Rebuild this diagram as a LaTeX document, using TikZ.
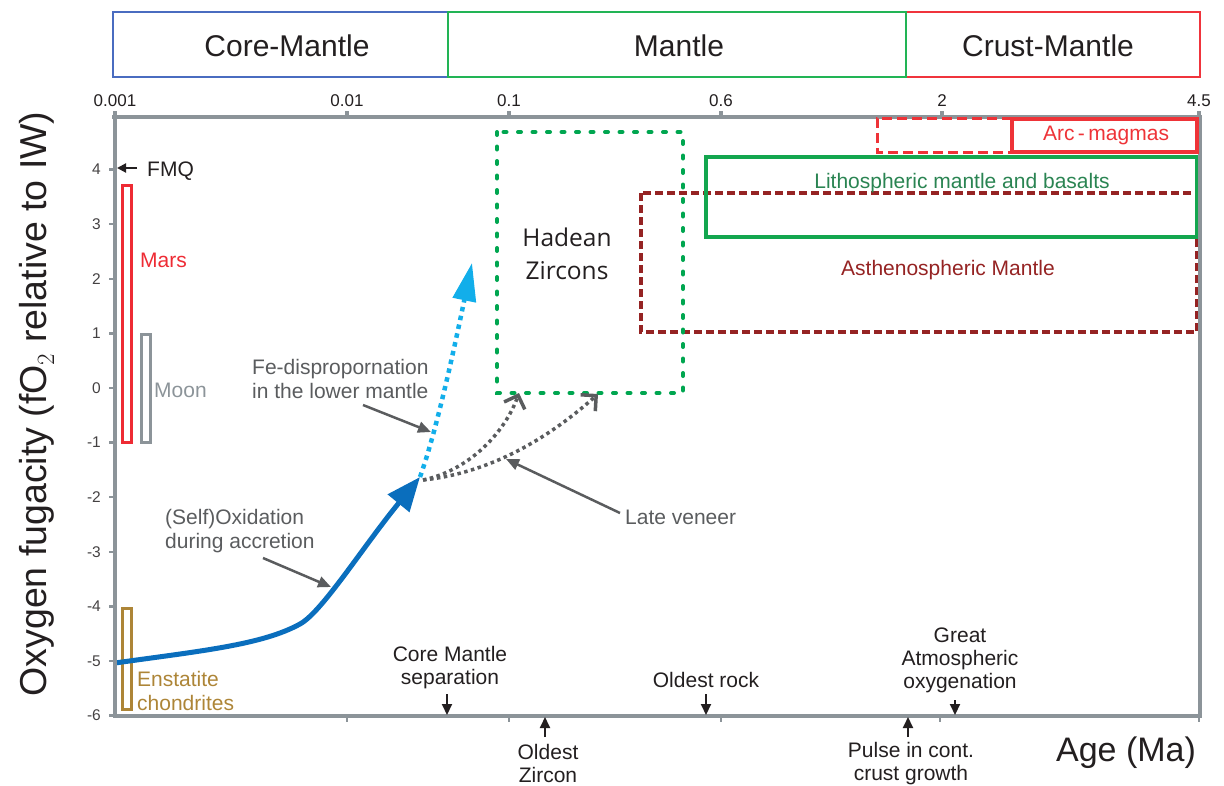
\documentclass[tikz,border=0pt]{standalone}
\usepackage{fontspec}
\setmainfont{Liberation Sans}
\newfontfamily\hadfont{Open Sans}
\usetikzlibrary{arrows.meta}
\definecolor{axisgray}{HTML}{8C9499}
\definecolor{marsred}{HTML}{EE2B34}
\definecolor{enbrown}{HTML}{AD8537}
\definecolor{dblue}{HTML}{0A6EBD}
\definecolor{lblue}{HTML}{12AEEA}
\definecolor{zgreen}{HTML}{00A650}
\definecolor{lgreen}{HTML}{13A64F}
\definecolor{ltext}{HTML}{2A8452}
\definecolor{dred}{HTML}{952323}
\definecolor{arcred}{HTML}{EE3338}
\definecolor{anngray}{HTML}{5A5C5E}
\definecolor{topblue}{HTML}{4A6CC0}
\definecolor{topgreen}{HTML}{22B455}
\definecolor{topred}{HTML}{F0343C}
\definecolor{txt}{HTML}{231F20}
\begin{document}
\begin{tikzpicture}[x=1pt,y=-1pt,
  axis/.style={axisgray,line width=3.5pt},
  toplbl/.style={font=\fontsize{30}{34}\selectfont,text=txt,inner sep=0pt,anchor=base},
  xtick/.style={font=\fontsize{17}{20}\selectfont,text=txt,inner sep=0pt,anchor=base},
  ytick/.style={font=\fontsize{15.5}{18}\selectfont,text=txt!85,inner sep=0pt,anchor=east},
  ann/.style={font=\fontsize{21}{24}\selectfont,text=anngray,inner sep=0pt,align=left,anchor=west},
  blbl/.style={font=\fontsize{21}{23}\selectfont,text=txt,inner sep=0pt,align=center},
  boxlbl/.style={font=\fontsize{21}{24}\selectfont,inner sep=0pt},
  annarrow/.style={anngray,line width=2.5pt,-{Triangle[length=13pt,width=11pt]}},
  evarrow/.style={txt,line width=2pt,-{Triangle[length=11pt,width=10pt]}},
  gdot/.style={anngray,line width=3.5pt,dash pattern=on 3.5pt off 3.5pt,-{Straight Barb[length=11pt,width=22pt,line width=3.5pt]}}
]
\useasboundingbox (0,0) rectangle (1224,785);

% top bar
\draw[topblue,line width=1.2pt] (113,12) rectangle (448,77);
\draw[topred,line width=1.2pt] (906,12) rectangle (1200,77);
\draw[topgreen,line width=1.2pt] (448,12) rectangle (906,77);
\node[toplbl] (tcm) at (287,56) {Core-Mantle};
\node[toplbl] (tm) at (679,56) {Mantle};
\node[toplbl] (tcr) at (1048,56) {Crust-Mantle};

% top tick labels
\node[xtick] (x1) at (115,106) {0.001};
\node[xtick] (x2) at (347,106) {0.01};
\node[xtick] (x3) at (509,106) {0.1};
\node[xtick] (x4) at (721,106) {0.6};
\node[xtick] (x5) at (942,106) {2};
\node[xtick] (x6) at (1199,106) {4.5};

% boxes
\draw[dred,line width=3.5pt,dash pattern=on 8pt off 4pt] (641,193) rectangle (1197,332);
\draw[lgreen,line width=4.5pt] (706,157) rectangle (1197,237);
\draw[zgreen,line width=4pt,line cap=round,dash pattern=on 3pt off 11.5pt] (497,132) rectangle (683,393);

\node[boxlbl,text=ltext] (lith) at (962,183) {Lithospheric mantle and basalts};
\node[boxlbl,text=dred] (asth) at (948,270) {Asthenospheric Mantle};
\node[font=\hadfont\fontsize{24.5}{33}\selectfont,text=txt,align=center,inner sep=0pt] (had) at (567,254) {Hadean\\Zircons};

% Mars, Moon, Enstatite
\draw[marsred,line width=3pt] (122.5,185) rectangle (131.5,442);
\draw[axisgray,line width=3pt] (141.5,334) rectangle (150.5,442);
\draw[enbrown,line width=3pt] (122.5,608) rectangle (131.5,709);
\node[ann,text=marsred,anchor=base west] (mars) at (140,267) {Mars};
\node[ann,text=axisgray,anchor=base west] (moon) at (154,397) {Moon};
\node[ann,text=enbrown] (enst) at (137,691) {Enstatite\\chondrites};

% FMQ
\coordinate (fmq0) at (137,168);
\coordinate (fmq1) at (117,168);
\draw[txt,line width=2pt,-{Triangle[length=9pt,width=9pt]}] (fmq0) -- (fmq1);
\node[ann,text=txt,anchor=base west] (fmq) at (147,176) {FMQ};

% curves
\coordinate (c0) at (115,663);
\coordinate (ck) at (300,624);
\coordinate (ctip) at (420,477);
\coordinate (lbtip) at (472,263);
\coordinate (gstart) at (423,480);
\coordinate (g1tip) at (519,393);
\coordinate (g2tip) at (598,394);
\draw[lblue,line width=4.5pt,dash pattern=on 4.5pt off 4.5pt,-{Triangle[length=38pt,width=23pt]}] (ctip) .. controls (437,430) and (456,340) .. (lbtip);
\draw[gdot] (gstart) .. controls (470,470) and (505,432) .. (g1tip);
\draw[gdot] (gstart) .. controls (500,472) and (560,428) .. (g2tip);
\draw[dblue,line width=5pt,-{Triangle[length=34pt,width=27pt]}] (c0) .. controls (200,651) and (262,645) .. (ck) .. controls (322,612) and (362,548) .. (ctip);

% annotations
\node[ann] (fe) at (252,379) {Fe-dispropornation\\in the lower mantle};
\coordinate (fe0) at (363,405);
\coordinate (fe1) at (431,432);
\draw[annarrow] (fe0) -- (fe1);
\node[ann] (self) at (165,531) {(Self)Oxidation\\during accretion};
\coordinate (so0) at (263,558);
\coordinate (so1) at (331,587);
\draw[annarrow] (so0) -- (so1);
\node[ann] (late) at (625,517) {Late veneer};
\coordinate (lv0) at (620,513);
\coordinate (lv1) at (506,459);
\draw[annarrow] (lv0) -- (lv1);

% axes
\draw[axis] (112,117) -- (1200,117) -- (1200,716) -- (115,716) -- (115,111);
\foreach \xx in {347,509,721,942,1199} \draw[axis] (\xx,117) -- (\xx,111);
\foreach \xx in {347,509,721,940,1199} \draw[axisgray,line width=2.5pt] (\xx,716) -- (\xx,722);
\foreach \v in {-6,...,4} {
  \draw[axisgray,line width=2.5pt] (109,{388-54.6*\v}) -- (115,{388-54.6*\v});
  \node[ytick] (yt\v) at (101,{388-54.6*\v}) {\v};
}

% arc-magma boxes (over the axis)
\draw[arcred,line width=3pt,dash pattern=on 10pt off 5pt] (1012,118) -- (877,118) -- (877,152) -- (1012,152);
\draw[arcred,line width=3.5pt] (1012,119) rectangle (1197,152);
\node[boxlbl,text=arcred] (arc) at (1106,135) {Arc\,-\,magmas};

% axis titles
\node[font=\fontsize{37.5}{40}\selectfont,text=txt,rotate=90,inner sep=0pt] (ylab) at (37,404) {Oxygen fugacity (fO$_2$ relative to IW)};
\node[font=\fontsize{34}{38}\selectfont,text=txt,inner sep=0pt] (xlab) at (1126,753) {Age (Ma)};

% events
\node[blbl] (cms) at (450,668) {Core Mantle\\separation};
\coordinate (cms0) at (447,694); \coordinate (cms1) at (447,715);
\draw[evarrow] (cms0) -- (cms1);
\node[blbl] (oz) at (548,763) {Oldest\\Zircon};
\coordinate (oz0) at (545,737); \coordinate (oz1) at (545,717);
\draw[evarrow] (oz0) -- (oz1);
\node[blbl] (orock) at (706,680) {Oldest rock};
\coordinate (or0) at (706,694); \coordinate (or1) at (706,715);
\draw[evarrow] (or0) -- (or1);
\node[blbl] (pulse) at (911,764) {Pulse in cont.\\crust growth};
\coordinate (pu0) at (908,737); \coordinate (pu1) at (908,717);
\draw[evarrow] (pu0) -- (pu1);
\node[blbl] (gao) at (960,660) {Great\\Atmospheric\\oxygenation};
\coordinate (ga0) at (955,700); \coordinate (ga1) at (955,715);
\draw[evarrow] (ga0) -- (ga1);
\end{tikzpicture}
\end{document}
